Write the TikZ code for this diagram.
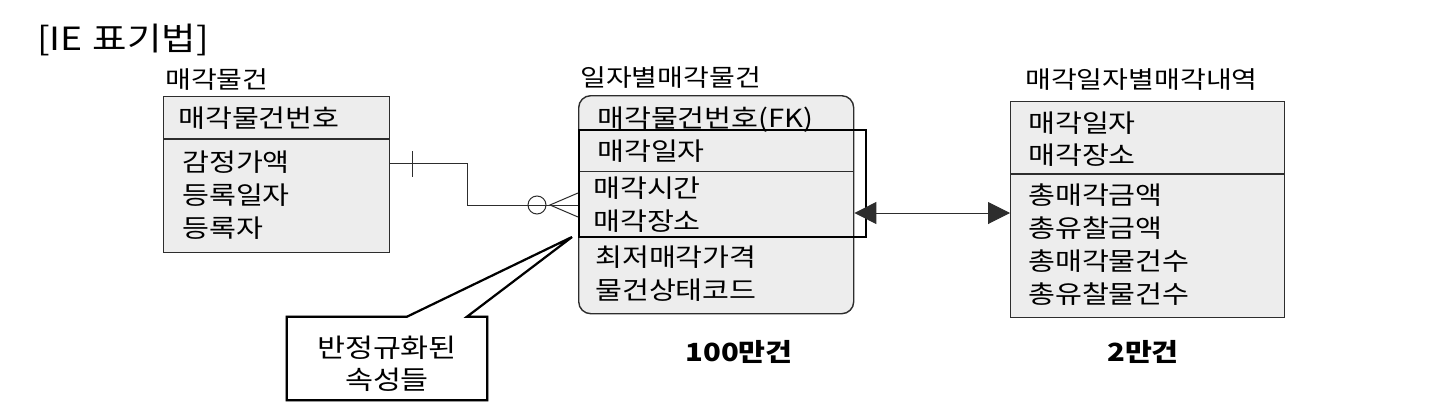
\documentclass[tikz,border=0pt]{standalone}
\usepackage{fontspec}
\setmainfont{Noto Sans CJK KR}[FakeStretch=1.17]
\usetikzlibrary{arrows.meta,positioning,calc}
\definecolor{boxgray}{RGB}{237,237,237}
\definecolor{inkgray}{RGB}{45,45,45}

\begin{document}
\begin{tikzpicture}[x=1pt,y=-1pt,
  ent/.style={draw=inkgray,fill=boxgray,line width=1.4pt,anchor=north west,inner sep=0pt},
  keygrp/.style={draw=black,line width=1.6pt,anchor=north west,inner sep=0pt},
  entname/.style={anchor=west,inner sep=0pt,font=\fontsize{24}{24}\selectfont},
  attr/.style={anchor=west,inner sep=0pt,align=left,font=\fontsize{25}{33}\selectfont},
  cnt/.style={inner sep=0pt,font=\bfseries\fontsize{25}{25}\selectfont},
  ttl/.style={anchor=west,inner sep=0pt,font=\fontsize{32}{32}\selectfont},
  div/.style={draw=inkgray,line width=1.3pt},
  rel/.style={draw=inkgray,line width=1pt},
  bothway/.style={rel,{Triangle[length=22pt,width=22pt]}-{Triangle[length=22pt,width=22pt]}},
  callout/.style={draw=black,line width=2.2pt,fill=white,line join=miter},
  notetxt/.style={inner sep=0pt,align=center,font=\fontsize{26}{32}\selectfont}
]
  \useasboundingbox (0,0) rectangle (1444,418);

  % title
  \node[ttl] (title) at (37,40) {[IE\hspace{10pt}표기법]};

  % entity: 매각물건
  \node[entname] (n1) at (165,80) {매각물건};
  \node[ent,minimum width=226pt,minimum height=156pt] (e1) at (163,96) {};
  \draw[div] (e1.west |- 0,139) -- (e1.east |- 0,139);
  \node[attr] (k1) at (178,118) {매각물건번호};
  \node[attr] (a1) at (182,195) {감정가액\\등록일자\\등록자};

  % entity: 일자별매각물건
  \node[entname] (n2) at (580,78) {일자별매각물건};
  \node[ent,rounded corners=12pt,minimum width=275pt,minimum height=218pt] (e2) at (578,95) {};
  \draw[div,line width=1pt] (e2.west |- 0,171) -- (e2.east |- 0,171);
  \node[keygrp,minimum width=287pt,minimum height=107pt] (keys) at (578,129) {};
  \node[attr] (k2) at (597,120) {매각물건번호(FK)};
  \node[attr] (k3) at (597,151) {매각일자};
  \node[attr] (a2) at (593,205) {매각시간\\매각장소};
  \node[attr] (a3) at (595,274) {최저매각가격\\물건상태코드};
  \node[cnt] (c2) at (739,352) {100만건};

  % entity: 매각일자별매각내역
  \node[entname] (n3) at (1025,80) {매각일자별매각내역};
  \node[ent,minimum width=274pt,minimum height=216pt] (e3) at (1010,101) {};
  \draw[div] (e3.west |- 0,174) -- (e3.east |- 0,174);
  \node[attr,font=\fontsize{25}{32}\selectfont] (k4) at (1028,139) {매각일자\\매각장소};
  \node[attr] (a4) at (1028,245) {총매각금액\\총유찰금액\\총매각물건수\\총유찰물건수};
  \node[cnt] (c3) at (1143,352) {2만건};

  % relationships
  \draw[rel] (e1.east |- 0,163) -- (467,163) |- (e2.west |- 0,205);
  \draw[rel] (412,151) -- (412,177);
  \draw[rel] (537,205) circle (9pt);
  \draw[rel] (e2.west |- 0,193) -- (550,205) -- (e2.west |- 0,217);
  \draw[bothway] (e2.east |- 0,213) -- (e3.west |- 0,213);

  % callout
  \node[minimum width=200pt,minimum height=83pt,inner sep=0pt] (nb) at (387,358.5) {};
  \coordinate (tip) at (572,237);
  \draw[callout,draw=gray!40,fill=gray!40,shift={(2,2)}] (nb.north west) -- ++(120,0) -- (tip) -- ($(nb.north west)+(180,0)$)
    -- (nb.north east) -- (nb.south east) -- (nb.south west) -- cycle;
  \draw[callout] (nb.north west) -- ++(120,0) -- (tip) -- ($(nb.north west)+(180,0)$)
    -- (nb.north east) -- (nb.south east) -- (nb.south west) -- cycle;
  \node[notetxt] (nt) at (387,364) {반정규화된\\속성들};
\end{tikzpicture}
\end{document}
